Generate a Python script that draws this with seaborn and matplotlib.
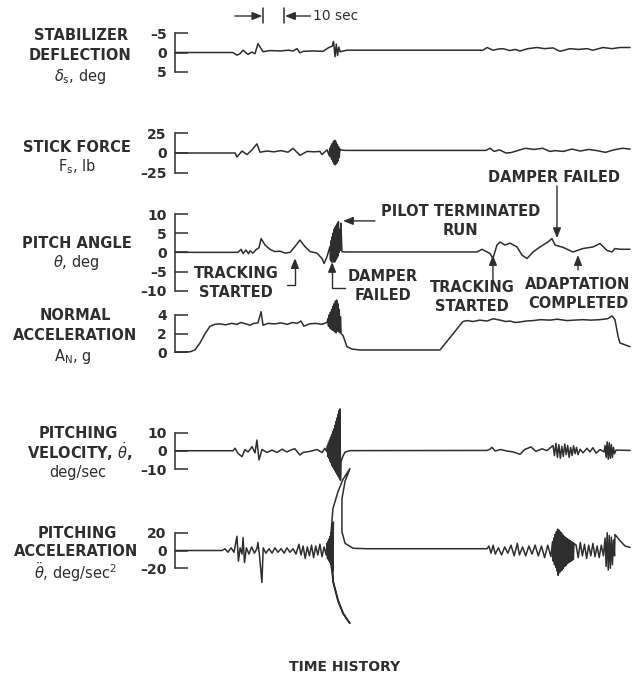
import matplotlib
matplotlib.use("Agg")
import matplotlib.pyplot as plt
import matplotlib.transforms as mtransforms
from matplotlib.ticker import FuncFormatter
import seaborn as sns

# ---- traces (t in sec) ----
stab_t = [0, 27.6, 29.5, 31.0, 32.4, 34.8, 36.5, 38.1, 39.5, 41.9, 45.2, 50.0, 54.0, 56.2, 58.1, 59.5, 61.0,
          65.7, 70.5, 72.4, 73.6, 74.8, 75.5, 76.2, 76.8, 77.4, 78.0, 78.6, 81.9, 86.7, 146.7, 148.6, 151.4,
          154.0, 156.2, 159.5, 162.0, 164.3, 168.0, 172.4, 176.0, 180.0, 183.3, 188.1, 192.0, 196.2, 199.0,
          203.8, 208.1, 211.9, 216.7]
stab_v = [0, 0, 0.7, 0.3, -0.6, 0.5, -0.1, 0.3, -2.3, -0.2, -0.5, -0.4, -0.6, -0.4, -1.0, 0.1, -0.3,
          -0.4, -0.3, -1.0, -1.4, -1.6, -2.9, 1.1, -2.2, 0.8, -1.4, -0.2, -0.6, -0.6, -0.6, -1.3, -0.6,
          -0.9, -1.0, -0.5, -0.8, -0.4, -1.0, -1.3, -1.0, -1.2, -0.3, -1.0, -0.8, -1.0, -0.6,
          -1.3, -1.0, -1.3, -1.3]

stick_t = [0, 28.6, 29.5, 31.9, 34.3, 36.7, 39.0, 40.5, 43.8, 47.0, 50.5, 53.8, 56.2, 59.5, 62.9, 66.0,
           69.0, 70.0, 72.4,
           73.4, 73.7, 74.0, 74.3, 74.6, 74.9, 75.2, 75.5, 75.8, 76.1, 76.4, 76.7, 77.0, 77.3, 77.6, 77.9,
           78.2, 78.5, 79.0,
           81.0, 148.0, 150.0, 152.0, 154.5, 157.6, 160.0, 164.3, 167.0, 171.0, 175.0, 178.5, 181.0, 185.0,
           189.0, 193.0, 197.0, 201.0, 205.0, 209.0, 213.0, 216.7]
stick_v = [0, 0, -5, 2.5, -2, 4, 11.6, 1, 2.5, 1.5, 3, 1, 6, -3, 2, 1.5,
           2, -2, 4,
           -3, 6, -5, 9, -8, 12, -11, 15, -14, 16, -15, 14, -13, 11, -10, 8,
           -6, 5, 4,
           3.3, 3.3, 6, 2, 4, 0, 0.5, 4, 6, 4.5, 6, 2, 3, 2,
           5, 2.5, 4.5, 3, 0.8, 4, 6, 5]

pitch_t = [0, 30.0, 31.5, 32.4, 33.8, 35.0, 35.7, 37.1, 38.6, 40.0, 41.0, 42.9, 45.2, 47.5, 50.0, 52.5,
           54.8, 57.1, 59.5, 61.9, 64.3, 67.6, 70.0, 71.0, 72.4,
           73.8, 74.05, 74.3, 74.55, 74.8, 75.05, 75.3, 75.55, 75.8, 76.05, 76.3, 76.55, 76.8, 77.05,
           77.3, 77.55, 77.8, 78.05, 78.3, 78.55, 78.8, 79.0,
           79.5, 81.0, 143.8, 146.2, 150.0, 151.4, 153.3, 154.8,
           157.1, 159.5, 162.9, 165.2, 167.6, 170.5, 173.8, 177.6, 179.5, 181.0, 184.8, 189.5, 194.3, 199.0,
           202.4, 205.7, 208.1, 209.5, 211.9, 216.7]
pitch_v = [0, 0, 0.8, -0.3, 0.6, -0.4, 0.4, -0.2, 0.7, 1.2, 3.6, 1.9, 0.8, 0.2, 0.3, -0.2,
           0.0, 1.5, 3.2, 1.5, 0.2, -0.2, -1.6, -2.9, -1.1,
           1.5, -2, 3, -2.5, 4, -2.5, 5, -2.5, 6, -2.5, 6.5, -2, 7, -1.5,
           7.5, -1, 8, 0, 6, 0.5, 5, 7.6,
           0.2, 0.1, 0.1, 0.8, -0.3, -1.6, 1.9, 2.7,
           1.9, 2.4, 1.4, -0.7, -1.6, 0.1, 1.4, 2.7, 3.6, 1.9, 1.3, 0.1, 1.0, 1.4,
           2.3, 0.5, 0.1, 1.0, 0.8, 0.8]

an_t = [0, 7.1, 9.5, 11.9, 14.3, 16.7, 19.0, 21.4, 24.0, 27.0, 29.5, 31.4, 33.8, 35.7, 37.5, 39.5,
        41.0, 41.9, 44.3, 47.5, 50.5, 53.5, 56.0, 58.1, 60.0, 61.4, 64.0, 67.0, 70.0, 72.4,
        72.8, 73.1, 73.4, 73.7, 74.0, 74.3, 74.6, 74.9, 75.2, 75.5, 75.8, 76.1, 76.4, 76.7, 77.0,
        77.3, 77.6, 77.9, 78.2, 78.5, 78.8, 79.1, 80.0,
        81.9, 84.3, 88.0, 126.2, 137.1, 139.0, 142.0, 145.0, 148.6, 151.5, 154.8, 157.5, 159.5, 162.0,
        164.3, 167.0, 170.5, 174.0, 178.6, 182.0, 186.7, 190.0, 194.3, 198.0, 202.4, 206.0, 208.1, 209.5,
        211.0, 211.9, 214.3, 216.7]
an_v = [0, 0.05, 0.25, 1.0, 2.0, 2.8, 3.0, 3.05, 2.95, 3.1, 3.0, 3.2, 3.05, 2.9, 3.1, 3.15,
        4.35, 2.9, 3.1, 3.05, 3.15, 3.0, 3.2, 3.1, 3.35, 2.8, 3.05, 3.1, 3.0, 3.2,
        3.6, 2.8, 4.0, 2.6, 4.3, 2.5, 4.6, 2.4, 4.9, 2.3, 5.2, 2.2, 5.5, 2.1, 5.6,
        2.3, 5.2, 2.2, 4.6, 2.1, 3.8, 2.0, 1.8,
        0.6, 0.35, 0.25, 0.25, 3.3, 3.4, 3.3, 3.45, 3.35, 3.6, 3.45, 3.3, 3.35, 3.2,
        3.25, 3.35, 3.4, 3.5, 3.45, 3.55, 3.4, 3.45, 3.5, 3.45, 3.5, 3.6, 3.9, 3.5,
        1.7, 1.0, 0.8, 0.6]

vel_t = [0, 27.6, 28.6, 30.0, 31.9, 33.3, 34.8, 36.7, 38.1, 39.0, 40.0, 41.4, 43.8, 46.2, 48.6, 51.0,
         53.3, 55.7, 57.1, 59.5, 61.0, 64.3, 67.6, 70.0, 71.4, 72.4,
         72.6, 72.85, 73.1, 73.35, 73.6, 73.85, 74.1, 74.35, 74.6, 74.85, 75.1, 75.35, 75.6, 75.85,
         76.1, 76.35, 76.6, 76.85, 77.1, 77.35, 77.6, 77.85, 78.1, 78.35, 78.6, 78.8,
         79.0, 80.0, 81.0, 83.3, 148.6, 150.0, 150.9, 152.5, 155.0, 158.0, 161.0, 164.3, 166.5, 169.5,
         171.9, 174.8, 177.1,
         180.0, 180.7, 181.4, 182.1, 182.8, 183.5, 184.2, 184.9, 185.6, 186.3, 187.0, 187.7, 188.4,
         189.1, 189.8, 190.5, 191.2, 191.9,
         192.9, 194.3, 196.2, 197.6, 199.0, 200.5, 202.4, 204.3,
         204.8, 205.3, 205.8, 206.3, 206.8, 207.3, 207.8, 208.3, 208.8, 209.3, 210.0, 216.7]
vel_v = [0.15, 0.15, 1.5, -1.3, -3.1, 0.8, -0.5, 2.4, -1.0, 6.0, -4.9, 0.8, -0.8, 0.5, -0.8, 1.0,
         -0.5, 0.8, 1.2, -2.2, -0.8, -0.2, 0.8, -0.8, 1.5, -0.5,
         3, -3, 4.5, -4, 6, -5.5, 7.5, -6.5, 9, -8, 10.5, -9, 12, -10,
         14, -11, 16, -12, 18, -13, 20, -14, 22, -15, 23, -16,
         -6, -2.7, -0.6, 0.2, 0.3, 1.0, 2.0, 0.0, 0.8, 0.0, -0.5, -1.8, 0.8, 2.2,
         -0.2, 1.2, 0.2,
         3.0, -2.5, 4.2, -3.5, 3.5, -4.0, 2.5, -3.0, 3.8, -2.0, 3.0, -3.5, 2.0,
         -2.5, 2.8, -1.5, 2.0, -2.0,
         1.0, -1.0, 1.5, -0.5, 1.8, -1.2, 0.8, -0.5,
         3.0, -3.5, 5.0, -4.5, 4.5, -4.0, 3.5, -3.5, 2.0, -1.5, 0.5, 0.3]

acc_t = [0, 22.4, 23.8, 25.2, 26.7, 28.1, 29.5, 30.2, 31.0, 31.9, 32.4, 33.1, 34.0, 35.2, 36.5, 37.8,
         39.0, 39.5, 40.2, 41.4, 42.0, 43.3, 44.8, 46.2, 47.6, 49.0, 50.5, 52.0, 53.3, 54.8, 56.2, 57.6,
         59.0, 60.0, 61.0, 62.0, 63.0, 64.0, 65.0, 66.0, 67.0, 68.0, 69.0, 70.0, 71.0, 72.0,
         72.4, 72.65, 72.9, 73.15, 73.4, 73.65, 73.9, 74.15, 74.4, 74.65, 74.9, 75.15, 75.4,
         75.2, 77.6, 80.0, 83.3, 80.0, 77.6, 75.2, 74.0, 73.8, 74.3, 75.2, 77.6, 80.0, 83.3,
         81.0, 79.5, 79.5, 81.0, 84.8, 91.4,
         148.6, 149.5, 150.5, 151.5, 152.5, 154.0, 155.5, 157.0, 158.5, 160.0, 161.5, 163.0, 164.0,
         165.5, 167.0, 168.5, 170.0, 171.5, 173.0, 174.5, 176.0, 177.5, 179.0,
         179.8, 180.1, 180.4, 180.7, 181.0, 181.3, 181.6, 181.9, 182.2, 182.5, 182.8, 183.1, 183.4,
         183.7, 184.0, 184.3, 184.6, 184.9, 185.2, 185.5, 185.8, 186.1, 186.4, 186.7, 187.0, 187.3,
         187.6, 187.9, 188.2, 188.5, 188.8, 189.1, 189.4, 189.7, 190.0,
         191.0, 192.0, 193.0, 194.0, 195.0, 196.0, 197.0, 198.0, 199.0, 200.0, 201.0, 202.0, 203.0, 204.0,
         204.8, 205.3, 205.8, 206.3, 206.8, 207.3, 207.8, 208.3, 208.8, 209.3, 209.5, 211.9, 214.3, 216.7]
acc_v = [0, 0, 2, -2, 3, -2, 16, -12, 3, -4, 14.5, -13.5, 3, -4, 4, -3,
         2, 9, -5, -36, 3, -3, 2, -3, 3, -2, 2, -3, 3, -2, 2, -4,
         7, -5, 5, -9, 4, -6, 6, -8, 5, -5, 7, -7, 4, -5,
         8, -9, 10, -11, 13, -13, 16, -15, 20, -18, 26, -22, 32,
         -35, -57, -71, -82, -70, -55, -33, -10, 0, 20, 47, 66, 80, 92,
         78, 58, 21, 8, 2.5, 2,
         2, 5, -3, 6, -4, 3, -5, 4, -3, 6, -6, 8, -5,
         4, -6, 5, -4, 6, -6, 5, -8, 6, -7,
         10, -12, 14, -16, 18, -19, 21, -23, 24, -28, 23, -25, 21,
         -23, 20, -22, 18, -20, 16, -18, 15, -17, 14, -15, 13, -14,
         12, -13, 11, -12, 10, -11, 9, -10, 8,
         6, -8, 9, -6, 7, -9, 6, -6, 8, -7, 5, -8, 6, -6,
         14, -18, 20, -22, 17, -20, 15, -16, 12, -6, 18, 11, 5, 3.5]

# 10 sec scale marks on the time axis
mark_t = [42, 52]

sns.set_theme(style="white")
plt.rcParams["font.family"] = ["DejaVu Sans"]
plt.rcParams["mathtext.fontset"] = "dejavusans"

INK = "#2e2e2e"
W, H = 633, 680
fig = plt.figure(figsize=(W / 100, H / 100), dpi=100)


def fx(px):
    return px / W


def fy(py):
    return 1 - py / H


X0, X1 = 175, 630
T_END = (X1 - X0) / 2.1

# top px, bottom px, ylim, ticks, data
strips = [
    (33.3, 71.7, (5, -5), [-5, 0, 5], stab_t, stab_v),
    (133.3, 172.7, (-25, 25), [-25, 0, 25], stick_t, stick_v),
    (214.0, 290.7, (-10, 10), [-10, -5, 0, 5, 10], pitch_t, pitch_v),
    (315.0, 352.3, (0, 4), [0, 2, 4], an_t, an_v),
    (432.7, 469.3, (-10, 10), [-10, 0, 10], vel_t, vel_v),
    (532.7, 568.3, (-20, 20), [-20, 0, 20], acc_t, acc_v),
]

dash = FuncFormatter(lambda v, p: f"{v:g}".replace("-", "\u2013"))
axes = []
for top, bot, lim, ticks, t, v in strips:
    ax = fig.add_axes([fx(X0), fy(bot), (X1 - X0) / W, (bot - top) / H])
    ax.patch.set_alpha(0)
    sns.lineplot(x=t, y=v, ax=ax, sort=False, estimator=None, color=INK,
                 linewidth=1.1, clip_on=False)
    ax.set_xlim(0, T_END)
    ax.set_ylim(*lim)
    ax.set_yticks(ticks)
    ax.yaxis.set_major_formatter(dash)
    ax.set_xticks([])
    ax.set_xlabel("")
    ax.set_ylabel("")
    for s in ["top", "right", "bottom"]:
        ax.spines[s].set_visible(False)
    ax.spines["left"].set_color(INK)
    ax.spines["left"].set_linewidth(1.1)
    ax.tick_params(axis="y", direction="in", length=9.5, width=1.1, color=INK,
                   pad=6, labelsize=10, labelcolor=INK, left=True)
    for lab in ax.get_yticklabels():
        lab.set_fontweight("bold")
    axes.append(ax)

# channel labels
BOLD = dict(ha="center", va="center", fontsize=10.5, fontweight="bold", color=INK)
NORM = dict(ha="center", va="center", fontsize=10.5, color=INK)
fig.text(fx(81), fy(36), "STABILIZER", **BOLD)
fig.text(fx(80), fy(55), "DEFLECTION", **BOLD)
fig.text(fx(80), fy(76), r"$\delta_\mathrm{s}$, deg", **NORM)
fig.text(fx(77), fy(147), "STICK FORCE", **BOLD)
fig.text(fx(77), fy(167), r"F$_\mathrm{s}$, lb", **NORM)
fig.text(fx(77), fy(243), "PITCH ANGLE", **BOLD)
fig.text(fx(76), fy(263), r"$\theta$, deg", **NORM)
fig.text(fx(75), fy(316), "NORMAL", **BOLD)
fig.text(fx(75), fy(336), "ACCELERATION", **BOLD)
fig.text(fx(73), fy(357), r"A$_\mathrm{N}$, g", **NORM)
fig.text(fx(78), fy(433), "PITCHING", **BOLD)
fig.text(fx(80), fy(452), r"VELOCITY, $\dot{\theta}$,", **BOLD)
fig.text(fx(78), fy(472), "deg/sec", **NORM)
fig.text(fx(77), fy(533), "PITCHING", **BOLD)
fig.text(fx(76), fy(552), "ACCELERATION", **BOLD)
fig.text(fx(75), fy(572), r"$\ddot{\theta}$, deg/sec$^2$", **NORM)
fig.text(fx(345), fy(667), "TIME HISTORY", ha="center", va="center",
         fontsize=10, fontweight="bold", color=INK)

# 10 sec scale
ax1 = axes[0]
tr = mtransforms.blended_transform_factory(ax1.transData, fig.transFigure)
for m in mark_t:
    ax1.plot([m, m], [fy(23), fy(8)], transform=tr, color=INK, lw=1.1, clip_on=False)
arr = dict(arrowstyle="-|>,head_length=0.5,head_width=0.2", color=INK, lw=1.0,
           shrinkA=0, shrinkB=0)
ax1.annotate("", xy=(mark_t[0] - 0.4, fy(16)), xytext=(mark_t[0] - 13.5, fy(16)),
             xycoords=tr, textcoords=tr, arrowprops=arr)
ax1.annotate("", xy=(mark_t[1] + 0.4, fy(16)), xytext=(mark_t[1] + 12.5, fy(16)),
             xycoords=tr, textcoords=tr, arrowprops=arr)
ax1.text(mark_t[1] + 13.5, fy(16), "10 sec", transform=tr, ha="left", va="center",
         fontsize=10, color=INK)

# pitch angle event notes
ax3 = axes[2]
ANN = dict(ha="center", va="center", fontsize=10.5, fontweight="bold", color=INK,
           linespacing=1.3)
elbow = dict(arr, connectionstyle="angle,angleA=0,angleB=90,rad=0")
ax3.text(29.0, -8.0, "TRACKING\nSTARTED", **ANN)
ax3.annotate("", xy=(57.1, -1.5), xytext=(53.3, -8.5), arrowprops=elbow, annotation_clip=False)
ax3.text(99.0, -8.8, "DAMPER\nFAILED", **ANN)
ax3.annotate("", xy=(74.8, -2.5), xytext=(81.0, -9.4), arrowprops=elbow, annotation_clip=False)
ax3.text(136.0, 8.2, "PILOT TERMINATED\nRUN", **ANN)
ax3.annotate("", xy=(80.0, 8.2), xytext=(95.2, 8.2), arrowprops=arr, annotation_clip=False)
ax3.text(141.4, -11.6, "TRACKING\nSTARTED", **ANN)
ax3.annotate("", xy=(151.4, -0.7), xytext=(151.4, -8.0), arrowprops=arr, annotation_clip=False)
ax3.text(191.9, -10.9, "ADAPTATION\nCOMPLETED", **ANN)
ax3.annotate("", xy=(191.9, -0.7), xytext=(191.9, -4.6), arrowprops=arr, annotation_clip=False)
ax3.text(180.5, 19.6, "DAMPER FAILED", **ANN)
ax3.annotate("", xy=(181.9, 3.7), xytext=(181.9, 17.3), arrowprops=arr, annotation_clip=False)

fig.savefig("out.png", dpi=100, facecolor="white")
